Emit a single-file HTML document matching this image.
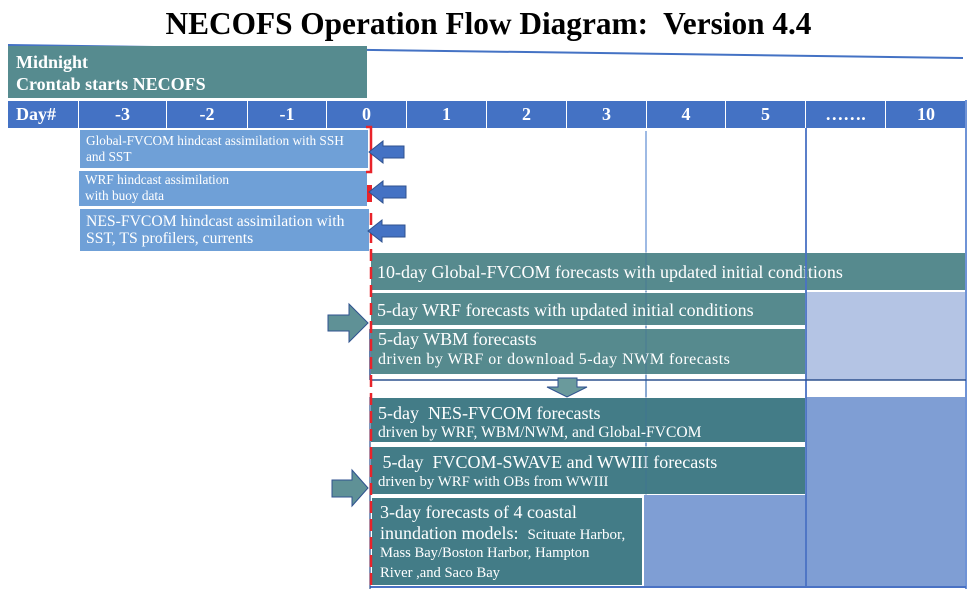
<!DOCTYPE html>
<html><head><meta charset="utf-8"><style>
body{margin:0;width:977px;height:589px;background:#fff;position:relative;overflow:hidden;font-family:"Liberation Serif","Times New Roman",serif;}
.a{position:absolute;box-sizing:border-box;}
.t{position:absolute;white-space:nowrap;color:#fff;}
.h{position:absolute;top:101px;height:27px;background:#4472C4;border-right:1px solid #fff;box-sizing:border-box;color:#fff;font-weight:bold;font-size:18px;line-height:27px;text-align:center;}
.hb{background:#6FA0D7;border:1.5px solid #fff;}
.tl{background:#568A8E;border:1.5px solid #fff;}
.td{background:#437C87;border:1.5px solid #fff;}
</style></head><body>
<div class="t" style="left:0;top:8px;width:977px;text-align:center;font-size:31.3px;line-height:31px;font-weight:bold;color:#000;">NECOFS Operation Flow Diagram:&nbsp; Version 4.4</div>

<svg class="a" style="left:0;top:0" width="977" height="589">
<line x1="8" y1="45" x2="963" y2="58" stroke="#4472C4" stroke-width="2"/>
<line x1="646" y1="131" x2="646" y2="587" stroke="#7FA3DC" stroke-width="1.5"/>
</svg>

<div class="a" style="left:8px;top:46px;width:359px;height:52px;background:#568B8F;"></div>
<div class="t" style="left:16px;top:51px;font-size:18px;line-height:22px;font-weight:bold;">Midnight<br>Crontab starts NECOFS</div>

<div class="h" style="left:8px;width:71px;text-align:left;padding-left:8px;">Day#</div>
<div class="h" style="left:79px;width:88px;">-3</div>
<div class="h" style="left:167px;width:81px;">-2</div>
<div class="h" style="left:248px;width:79px;">-1</div>
<div class="h" style="left:327px;width:80px;">0</div>
<div class="h" style="left:407px;width:80px;">1</div>
<div class="h" style="left:487px;width:80px;">2</div>
<div class="h" style="left:567px;width:80px;">3</div>
<div class="h" style="left:647px;width:79px;">4</div>
<div class="h" style="left:726px;width:80px;">5</div>
<div class="h" style="left:806px;width:80px;">…….</div>
<div class="h" style="left:886px;width:80px;border-right:none;">10</div>

<!-- hindcast boxes -->
<div class="a hb" style="left:79px;top:129px;width:290px;height:40px;"></div>
<div class="t" style="left:86px;top:133px;font-size:13.3px;line-height:16px;">Global-FVCOM hindcast assimilation with SSH<br>and SST</div>
<div class="a hb" style="left:78px;top:170px;width:290px;height:37px;"></div>
<div class="t" style="left:85px;top:172px;font-size:13.3px;line-height:16px;">WRF hindcast assimilation<br>with buoy data</div>
<div class="a hb" style="left:79px;top:208px;width:291px;height:44px;"></div>
<div class="t" style="left:86px;top:213px;font-size:15.7px;line-height:17px;">NES-FVCOM hindcast assimilation with<br>SST, TS profilers, currents</div>

<!-- light/mid blue areas -->
<div class="a" style="left:806px;top:292px;width:160px;height:88px;background:#B4C4E4;"></div>
<div class="a" style="left:806px;top:397px;width:160px;height:190px;background:#7F9ED4;"></div>
<div class="a" style="left:644px;top:495px;width:162px;height:92px;background:#7F9ED4;"></div>

<!-- forecast boxes -->
<div class="a tl" style="left:370px;top:252px;width:596px;height:39px;"></div>
<div class="t" style="left:377px;top:262px;font-size:18px;line-height:20px;">10-day Global-FVCOM forecasts with updated initial conditions</div>

<div class="a tl" style="left:370px;top:292px;width:436px;height:34px;"></div>
<div class="t" style="left:377px;top:300px;font-size:18px;line-height:20px;">5-day WRF forecasts with updated initial conditions</div>

<div class="a tl" style="left:370px;top:328px;width:436px;height:47px;"></div>
<div class="t" style="left:378px;top:329px;font-size:18px;line-height:20px;">5-day WBM forecasts</div>
<div class="t" style="left:378px;top:350px;font-size:16px;line-height:20px;letter-spacing:0.5px;">driven by WRF or download 5-day NWM forecasts</div>

<div class="a td" style="left:370px;top:397px;width:436px;height:46px;"></div>
<div class="t" style="left:378px;top:403px;font-size:18px;line-height:20px;">5-day&nbsp; NES-FVCOM forecasts</div>
<div class="t" style="left:378px;top:423px;font-size:15.6px;line-height:19px;">driven by WRF, WBM/NWM, and Global-FVCOM</div>

<div class="a td" style="left:370px;top:446px;width:436px;height:49px;"></div>
<div class="t" style="left:378px;top:452px;font-size:18px;line-height:20px;">&nbsp;5-day&nbsp; FVCOM-SWAVE and WWIII forecasts</div>
<div class="t" style="left:378px;top:473px;font-size:14.8px;line-height:19px;">driven by WRF with OBs from WWIII</div>

<div class="a td" style="left:371px;top:497px;width:272px;height:89px;"></div>
<div class="t" style="left:380px;top:502px;font-size:18px;line-height:20px;">3-day forecasts of 4 coastal</div>
<div class="t" style="left:380px;top:523px;font-size:18px;line-height:20px;">inundation models:&nbsp; <span style="font-size:15px;">Scituate Harbor,</span></div>
<div class="t" style="left:380px;top:543px;font-size:14.6px;line-height:20px;">Mass Bay/Boston Harbor, Hampton</div>
<div class="t" style="left:380px;top:563px;font-size:14.6px;line-height:20px;">River ,and Saco Bay</div>

<svg class="a" style="left:0;top:0" width="977" height="589">
<!-- grid lines -->
<line x1="646" y1="252" x2="646" y2="495" stroke="#3E6E9A" stroke-width="1.2" opacity="0.45"/>
<line x1="806" y1="128" x2="806" y2="587" stroke="#4A72C4" stroke-width="2" opacity="0.9"/>
<line x1="966" y1="100" x2="966" y2="589" stroke="#6F93D6" stroke-width="2"/>
<line x1="370" y1="380" x2="966" y2="380" stroke="#2F528F" stroke-width="1.5"/>
<line x1="370" y1="329" x2="370" y2="380" stroke="#2F528F" stroke-width="1.5"/>
<line x1="370" y1="587" x2="966" y2="587" stroke="#4A72C4" stroke-width="2"/>
<line x1="370" y1="397" x2="370" y2="589" stroke="#2F528F" stroke-width="1.2"/>

<!-- red markers -->
<path d="M366 127 H371 V172 H366" fill="none" stroke="#E8232A" stroke-width="2.5"/>
<rect x="367" y="185" width="5" height="17" fill="#E8232A"/>
<line x1="371" y1="213" x2="371" y2="589" stroke="#E8232A" stroke-width="2.5" stroke-dasharray="12 6"/>

<!-- blue left arrows -->
<polygon points="369,152 383,141 383,146 404,146 404,158 383,158 383,163" fill="#4472C4" stroke="#2F528F" stroke-width="1"/>
<polygon points="369,192 383,181 383,186 406,186 406,198 383,198 383,203" fill="#4472C4" stroke="#2F528F" stroke-width="1"/>
<polygon points="368,231 382,220 382,225 405,225 405,237 382,237 382,242" fill="#4472C4" stroke="#2F528F" stroke-width="1"/>

<!-- teal right arrows -->
<polygon points="328,315 349,315 349,304 368,323 349,342 349,331 328,331" fill="#5F9196" stroke="#2F528F" stroke-width="1"/>
<polygon points="332,480 352,480 352,470 368,488 352,506 352,497 332,497" fill="#5F9196" stroke="#2F528F" stroke-width="1"/>

<!-- down arrow -->
<polygon points="558,378 577,378 577,387 587,387 567,397 547,387 558,387" fill="#6A9A9C" stroke="#2F528F" stroke-width="1"/>
</svg>
</body></html>
